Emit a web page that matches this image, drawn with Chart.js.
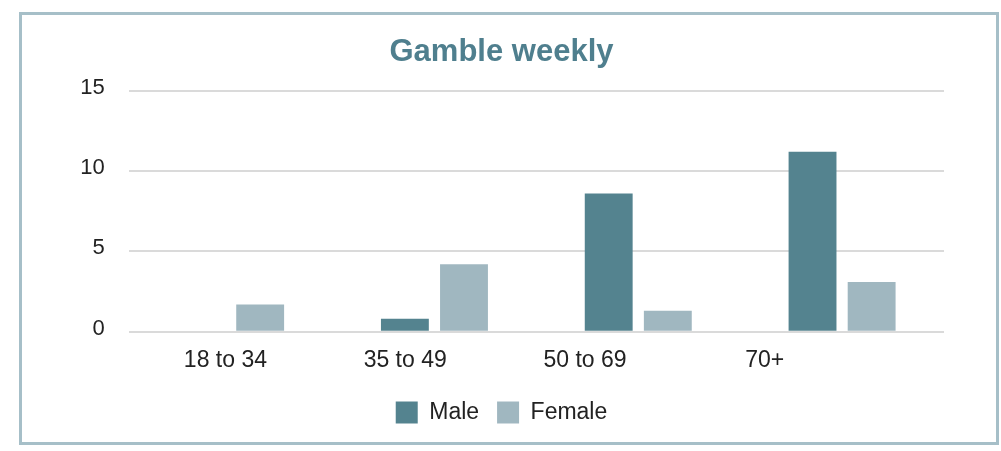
<!DOCTYPE html>
<html>
<head>
<meta charset="utf-8">
<script src="https://cdn.jsdelivr.net/npm/chart.js@4.4.1/dist/chart.umd.min.js"></script>
<style>
  html, body { margin: 0; padding: 0; background: #ffffff; }
  #wrap { position: relative; width: 1001px; height: 451px; overflow: hidden; }
  #frame { position: absolute; left: 19px; top: 12px; width: 980px; height: 433px; box-sizing: border-box; border: 3px solid #a6bfc8; pointer-events: none; }
  #c { position: absolute; left: 0; top: 0; }
</style>
</head>
<body>
<div id="wrap">
  <canvas id="c" width="1001" height="451"></canvas>
  <div id="frame"></div>
</div>
<script>
const chartTitle = 'Gamble weekly';
const categories = ['18 to 34', '35 to 49', '50 to 69', '70+'];
const seriesNames = ['Male', 'Female'];
const maleValues = [0, 0.8, 8.6, 11.2];
const femaleValues = [1.7, 4.2, 1.3, 3.1];
const yTickValues = [0, 5, 10, 15];

const FONT = "'Liberation Sans', Arial, Helvetica, sans-serif";
const MALE_COLOR = '#54838f';
const FEMALE_COLOR = '#a0b7c0';
const TEXT_COLOR = '#222222';

new Chart(document.getElementById('c'), {
  type: 'bar',
  data: {
    labels: categories,
    datasets: [
      { label: seriesNames[0], data: maleValues, backgroundColor: MALE_COLOR, borderWidth: 0,
        categoryPercentage: 0.58, barPercentage: 0.81 },
      { label: seriesNames[1], data: femaleValues, backgroundColor: FEMALE_COLOR, borderWidth: 0,
        categoryPercentage: 0.58, barPercentage: 0.81 }
    ]
  },
  options: {
    responsive: false,
    animation: false,
    devicePixelRatio: 1,
    layout: { padding: { left: 59, right: 57, top: 0, bottom: 17 } },
    plugins: {
      title: {
        display: true,
        text: chartTitle,
        color: '#4f7f8e',
        font: { family: FONT, size: 31, weight: 'bold', lineHeight: 1.2 },
        padding: { top: 34, bottom: 19.5 }
      },
      legend: {
        display: true,
        position: 'bottom',
        labels: {
          boxWidth: 22,
          boxHeight: 22,
          padding: 18,
          color: TEXT_COLOR,
          font: { family: FONT, size: 23 }
        }
      },
      tooltip: { enabled: false }
    },
    scales: {
      x: {
        type: 'category',
        display: false,
        offset: true
      },
      xl: {
        type: 'linear',
        position: 'bottom',
        offset: false,
        min: -0.538,
        max: 3.997,
        grid: { display: false, drawTicks: false, offset: false },
        border: { display: false },
        afterBuildTicks: (scale) => { scale.ticks = categories.map((_, i) => ({ value: i })); },
        afterFit: (scale) => { scale.height = 51.3; },
        ticks: {
          autoSkip: false,
          maxRotation: 0,
          padding: 15,
          color: TEXT_COLOR,
          font: { family: FONT, size: 23 },
          callback: (v) => categories[v] !== undefined ? categories[v] : ''
        }
      },
      y: {
        min: 0,
        max: 15,
        z: 1,
        afterBuildTicks: (scale) => { scale.ticks = yTickValues.map(v => ({ value: v })); },
        afterFit: (scale) => { scale.width = 69.7; },
        grid: { color: '#dadada', lineWidth: 2, drawTicks: false },
        border: { display: false },
        ticks: {
          padding: 24,
          labelOffset: -3,
          color: TEXT_COLOR,
          font: { family: FONT, size: 22 }
        }
      }
    }
  }
});
</script>
</body>
</html>
